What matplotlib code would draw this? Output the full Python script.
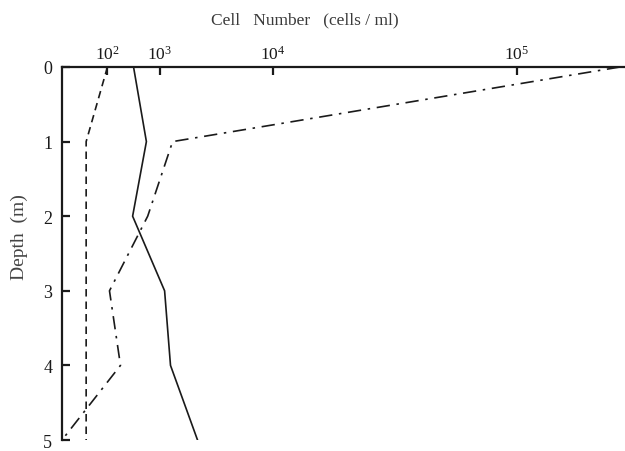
import numpy as np
import matplotlib
matplotlib.use("Agg")
import matplotlib.pyplot as plt

plt.rcParams['font.family'] = ['Liberation Serif', 'DejaVu Serif']
plt.rcParams['mathtext.fontset'] = 'custom'
plt.rcParams['mathtext.rm'] = 'Liberation Serif'
plt.rcParams['mathtext.it'] = 'Liberation Serif:italic'

# Sampling depths (m)
depth = [0, 1, 2, 3, 4, 5]

# Cell counts (cells/ml) for the three populations
solid_counts = [390, 640, 375, 1150, 1360, 2650]
dashed_counts = [100, 15, 15, 15, 15, 15]
dashdot_counts = [185000, 1440, 670, 114, 213, 0]

xtick_values = [1e2, 1e3, 1e4, 1e5]
xtick_labels = [r'$10^2$', r'$10^3$', r'$10^4$', r'$10^5$']
ytick_values = [0, 1, 2, 3, 4, 5]

ink = '#1a1a1a'

fig = plt.figure(figsize=(6.25, 4.52), dpi=100)
ax = fig.add_axes([62 / 625, 11 / 452, 563 / 625, 373 / 452])

# cube-root horizontal scale
ax.set_xscale('function', functions=(np.cbrt, lambda v: np.power(v, 3)))
ax.set_xlim(0, 1.9e5)
ax.set_ylim(5, 0)

ax.plot(solid_counts, depth, color=ink, lw=1.2, solid_joinstyle='miter')
ax.plot(dashed_counts, depth, color=ink, lw=1.2, dashes=(4.5, 3.0))
ax.plot(dashdot_counts, depth, color=ink, lw=1.2, dashes=(8, 4, 1.5, 4))

for side in ('right', 'bottom'):
    ax.spines[side].set_visible(False)
for side in ('left', 'top'):
    ax.spines[side].set_linewidth(1.6)
    ax.spines[side].set_color(ink)

ax.xaxis.set_ticks_position('top')
ax.set_xticks(xtick_values)
ax.set_xticklabels(xtick_labels)
ax.xaxis.set_minor_locator(matplotlib.ticker.NullLocator())
ax.tick_params(axis='x', direction='in', length=6, width=1.6, pad=3,
               labelsize=12.5, colors=ink)
ax.set_yticks(ytick_values)
ax.tick_params(axis='y', direction='in', length=6, width=1.6, pad=7,
               labelsize=13, colors=ink)

fig.text(305 / 625, 1 - 20 / 452, 'Cell   Number   (cells / ml)',
         ha='center', va='center', fontsize=12.5, color='#3a3a3a')
fig.text(19 / 625, 1 - 237 / 452, 'Depth  (m)', rotation=90,
         ha='center', va='center', fontsize=14, color='#444444')

fig.savefig('out.png', dpi=100)
